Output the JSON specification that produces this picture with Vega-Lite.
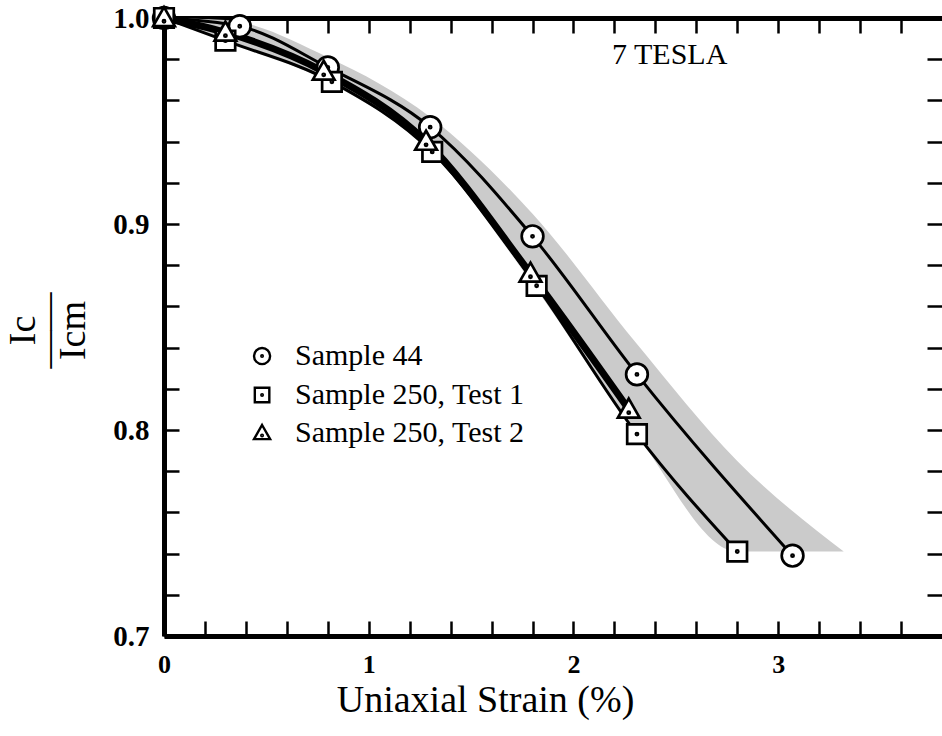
{
  "$schema": "https://vega.github.io/schema/vega-lite/v6.json",
  "width": 778,
  "height": 618,
  "autosize": {"type": "none"},
  "padding": {"left": 164, "top": 18, "right": 0, "bottom": 100},
  "background": "white",
  "config": {
    "view": {"stroke": null},
    "font": "Liberation Serif",
    "axis": {
      "grid": false,
      "domainColor": "black",
      "domainWidth": 5,
      "tickColor": "black",
      "tickWidth": 2.5,
      "tickSize": -15,
      "labelColor": "black",
      "titleColor": "black",
      "labelFont": "Liberation Serif",
      "titleFont": "Liberation Serif"
    }
  },
  "datasets": {
    "pts": [
      {"series": "Sample 44", "strain": 0, "ic": 1.0},
      {"series": "Sample 44", "strain": 0.37, "ic": 0.996},
      {"series": "Sample 44", "strain": 0.8, "ic": 0.976},
      {"series": "Sample 44", "strain": 1.3, "ic": 0.947},
      {"series": "Sample 44", "strain": 1.8, "ic": 0.894},
      {"series": "Sample 44", "strain": 2.31, "ic": 0.827},
      {"series": "Sample 44", "strain": 3.07, "ic": 0.739},
      {"series": "Sample 250, Test 1", "strain": 0, "ic": 1.0},
      {"series": "Sample 250, Test 1", "strain": 0.3, "ic": 0.989},
      {"series": "Sample 250, Test 1", "strain": 0.82, "ic": 0.969},
      {"series": "Sample 250, Test 1", "strain": 1.31, "ic": 0.935},
      {"series": "Sample 250, Test 1", "strain": 1.82, "ic": 0.87},
      {"series": "Sample 250, Test 1", "strain": 2.31, "ic": 0.798},
      {"series": "Sample 250, Test 1", "strain": 2.8, "ic": 0.741},
      {"series": "Sample 250, Test 2", "strain": 0, "ic": 1.0},
      {"series": "Sample 250, Test 2", "strain": 0.3, "ic": 0.993},
      {"series": "Sample 250, Test 2", "strain": 0.78, "ic": 0.974},
      {"series": "Sample 250, Test 2", "strain": 1.28, "ic": 0.94},
      {"series": "Sample 250, Test 2", "strain": 1.79, "ic": 0.876},
      {"series": "Sample 250, Test 2", "strain": 2.27, "ic": 0.81}
    ],
    "band": [
      {"x": 0, "lo": 1.0, "hi": 1.0},
      {"x": 0.3, "lo": 0.989, "hi": 0.999},
      {"x": 0.8, "lo": 0.969, "hi": 0.981},
      {"x": 1.3, "lo": 0.935, "hi": 0.952},
      {"x": 1.8, "lo": 0.871, "hi": 0.905},
      {"x": 2.3, "lo": 0.799, "hi": 0.843},
      {"x": 2.8, "lo": 0.741, "hi": 0.785},
      {"x": 3.32, "lo": 0.741, "hi": 0.741}
    ],
    "note": [{"label": "7 TESLA"}],
    "leg1": [{"series": "Sample 44"}],
    "leg2": [{"series": "Sample 250, Test 1"}],
    "leg3": [{"series": "Sample 250, Test 2"}]
  },
  "resolve": {"axis": {"x": "independent", "y": "independent"}},
  "layer": [
    {
      "data": {"name": "band"},
      "mark": {"type": "area", "color": "#cbcbcb", "interpolate": "monotone", "opacity": 1},
      "encoding": {
        "x": {
          "field": "x", "type": "quantitative",
          "scale": {"domain": [0, 3.8], "nice": false, "zero": false},
          "axis": {
            "orient": "bottom",
            "values": [0, 0.2, 0.4, 0.6, 0.8, 1, 1.2, 1.4, 1.6, 1.8, 2, 2.2, 2.4, 2.6, 2.8, 3, 3.2, 3.4, 3.6],
            "labelExpr": "abs(datum.value - round(datum.value)) < 0.001 ? format(datum.value, 'd') : ''",
            "labelFontSize": 26,
            "labelFontWeight": "bold",
            "labelPadding": 30,
            "labelFlush": false,
            "title": "Uniaxial Strain (%)",
            "titleFontSize": 38,
            "titleFontWeight": "normal",
            "titleX": 321,
            "titleY": 75,
            "titleAlign": "center",
            "titleBaseline": "alphabetic"
          }
        },
        "y": {
          "field": "hi", "type": "quantitative",
          "scale": {"domain": [0.7, 1.0], "nice": false, "zero": false},
          "axis": {
            "orient": "left",
            "values": [0.7, 0.72, 0.74, 0.76, 0.78, 0.8, 0.82, 0.84, 0.86, 0.88, 0.9, 0.92, 0.94, 0.96, 0.98, 1.0],
            "labelExpr": "abs(datum.value * 10 - round(datum.value * 10)) < 0.001 ? format(datum.value, '.1f') : ''",
            "labelFontSize": 29,
            "labelFontWeight": "bold",
            "labelPadding": 30,
            "labelFlush": false,
            "title": ["Ic", "——", "Icm"],
            "titleFontSize": 38,
            "titleFontWeight": "normal",
            "titleAngle": 270,
            "titleLineHeight": 25,
            "titleX": -141,
            "titleY": 312,
            "titleAlign": "center",
            "titleBaseline": "middle"
          }
        },
        "y2": {"field": "lo"}
      }
    },
    {
      "data": {"name": "pts"},
      "mark": {"type": "line", "color": "black", "interpolate": "monotone"},
      "encoding": {
        "x": {
          "field": "strain", "type": "quantitative",
          "axis": {
            "orient": "top",
            "values": [0, 0.2, 0.4, 0.6, 0.8, 1, 1.2, 1.4, 1.6, 1.8, 2, 2.2, 2.4, 2.6, 2.8, 3, 3.2, 3.4, 3.6],
            "labels": false,
            "title": null
          }
        },
        "y": {
          "field": "ic", "type": "quantitative",
          "axis": {
            "orient": "right",
            "domain": false,
            "values": [0.72, 0.74, 0.76, 0.78, 0.8, 0.82, 0.84, 0.86, 0.88, 0.9, 0.92, 0.94, 0.96, 0.98],
            "labels": false,
            "title": null
          }
        },
        "detail": {"field": "series"},
        "strokeWidth": {
          "condition": {"test": "datum.series === 'Sample 250, Test 2'", "value": 7},
          "value": 3
        }
      }
    },
    {
      "data": {"name": "pts"},
      "mark": {"type": "point", "filled": true, "color": "white", "fill": "white", "stroke": "black", "strokeWidth": 2.7, "opacity": 1, "size": 470},
      "encoding": {
        "x": {"field": "strain", "type": "quantitative", "axis": null},
        "y": {"field": "ic", "type": "quantitative", "axis": null},
        "shape": {
          "field": "series", "type": "nominal",
          "scale": {
            "domain": ["Sample 44", "Sample 250, Test 1", "Sample 250, Test 2"],
            "range": [
              "M-1,0A1,1,0,1,1,1,0A1,1,0,1,1,-1,0Z M-0.1,0A0.1,0.1,0,1,1,0.1,0A0.1,0.1,0,1,1,-0.1,0Z",
              "M-0.9,-0.9H0.9V0.9H-0.9Z M-0.1,0A0.1,0.1,0,1,1,0.1,0A0.1,0.1,0,1,1,-0.1,0Z",
              "M0,-1L1,0.75L-1,0.75Z M-0.1,0.3A0.1,0.1,0,1,1,0.1,0.3A0.1,0.1,0,1,1,-0.1,0.3Z"
            ]
          },
          "legend": null
        }
      }
    },
    {
      "data": {"name": "leg1"},
      "mark": {"type": "point", "filled": true, "color": "white", "fill": "white", "stroke": "black", "strokeWidth": 2.4, "opacity": 1, "size": 260},
      "encoding": {
        "x": {"datum": 0.479, "type": "quantitative", "axis": null},
        "y": {"datum": 0.8359, "type": "quantitative", "axis": null},
        "shape": {"field": "series", "type": "nominal", "legend": null}
      }
    },
    {
      "data": {"name": "leg2"},
      "mark": {"type": "point", "filled": true, "color": "white", "fill": "white", "stroke": "black", "strokeWidth": 2.4, "opacity": 1, "size": 260},
      "encoding": {
        "x": {"datum": 0.479, "type": "quantitative", "axis": null},
        "y": {"datum": 0.817, "type": "quantitative", "axis": null},
        "shape": {"field": "series", "type": "nominal", "legend": null}
      }
    },
    {
      "data": {"name": "leg3"},
      "mark": {"type": "point", "filled": true, "color": "white", "fill": "white", "stroke": "black", "strokeWidth": 2.4, "opacity": 1, "size": 260},
      "encoding": {
        "x": {"datum": 0.479, "type": "quantitative", "axis": null},
        "y": {"datum": 0.7985, "type": "quantitative", "axis": null},
        "shape": {"field": "series", "type": "nominal", "legend": null}
      }
    },
    {
      "data": {"name": "leg1"},
      "mark": {"type": "text", "font": "Liberation Serif", "fontSize": 30, "align": "left", "baseline": "middle", "color": "black"},
      "encoding": {
        "x": {"datum": 0.64, "type": "quantitative", "axis": null},
        "y": {"datum": 0.8359, "type": "quantitative", "axis": null},
        "text": {"field": "series"}
      }
    },
    {
      "data": {"name": "leg2"},
      "mark": {"type": "text", "font": "Liberation Serif", "fontSize": 30, "align": "left", "baseline": "middle", "color": "black"},
      "encoding": {
        "x": {"datum": 0.64, "type": "quantitative", "axis": null},
        "y": {"datum": 0.817, "type": "quantitative", "axis": null},
        "text": {"field": "series"}
      }
    },
    {
      "data": {"name": "leg3"},
      "mark": {"type": "text", "font": "Liberation Serif", "fontSize": 30, "align": "left", "baseline": "middle", "color": "black"},
      "encoding": {
        "x": {"datum": 0.64, "type": "quantitative", "axis": null},
        "y": {"datum": 0.7985, "type": "quantitative", "axis": null},
        "text": {"field": "series"}
      }
    },
    {
      "data": {"name": "note"},
      "mark": {"type": "text", "font": "Liberation Serif", "fontSize": 30, "align": "center", "baseline": "middle", "color": "black"},
      "encoding": {
        "x": {"datum": 2.47, "type": "quantitative", "axis": null},
        "y": {"datum": 0.982, "type": "quantitative", "axis": null},
        "text": {"field": "label"}
      }
    }
  ]
}
